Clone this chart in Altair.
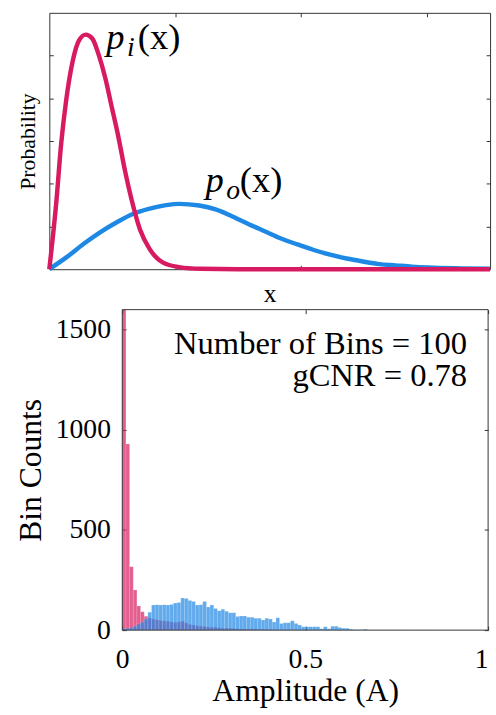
import altair as alt
import pandas as pd

SERIF = "Liberation Serif"
RED = "#D81B60"
BLUE = "#1E88E5"
FRAME = "#333333"

# ---------------- top panel: density sketches ----------------
pi_x = [0.0, 0.055, 0.094, 0.133, 0.185, 0.237, 0.289, 0.341, 0.393, 0.445, 0.497, 0.549,
        0.600, 0.654, 0.720, 0.797, 0.900, 1.030, 1.200, 1.500, 2.000, 2.500, 3.000, 3.500]
pi_y = [0.0, 1.55, 2.93, 3.93, 4.86, 5.36, 5.49, 5.40, 5.01, 4.47, 3.78, 3.09,
        2.32, 1.62, 0.93, 0.47, 0.16, 0.05, 0.01, 0.0, 0.0, 0.0, 0.0, 0.0]

po_x = [0.0, 0.146, 0.276, 0.406, 0.536, 0.667, 0.797, 0.927, 1.030, 1.190, 1.320, 1.450,
        1.580, 1.710, 1.840, 1.970, 2.100, 2.230, 2.360, 2.490, 2.620, 2.750, 2.880, 3.010,
        3.270, 3.500]
po_y = [0.0, 0.30, 0.60, 0.87, 1.10, 1.30, 1.42, 1.50, 1.53, 1.49, 1.40, 1.24,
        1.06, 0.89, 0.72, 0.58, 0.45, 0.34, 0.25, 0.18, 0.12, 0.09, 0.06, 0.04,
        0.02, 0.01]

top_xdomain = [0, 3.5]
top_ydomain = [0, 6]
top_xticks = [1, 2, 3]
top_yticks = [1, 2, 3, 4, 5]

# ---------------- bottom panel: histogram, 100 bins over [0, 1] ----------------
bin_lo = [i / 100 for i in range(100)]
red_counts = [2000, 929, 317, 200, 121, 92, 69, 60, 55, 52,
              48, 45, 44, 40, 38, 40, 44, 35, 28, 25,
              22, 20, 18, 16, 15, 14, 12, 10, 10, 9,
              8, 7, 6, 6, 5, 5, 4, 3, 3, 2,
              2, 1, 1, 1, 1, 1, 0, 0, 0, 0,
              0, 0, 0, 0, 0, 0, 0, 0, 0, 0,
              0, 0, 0, 0, 0, 0, 0, 0, 0, 0,
              0, 0, 0, 0, 0, 0, 0, 0, 0, 0,
              0, 0, 0, 0, 0, 0, 0, 0, 0, 0,
              0, 0, 0, 0, 0, 0, 0, 0, 0, 0]
blue_counts = [7, 10, 12, 20, 31, 40, 55, 89, 125, 127,
               125, 127, 126, 128, 135, 138, 160, 158, 148, 143,
               125, 127, 143, 115, 125, 108, 97, 104, 94, 87,
               87, 68, 71, 70, 64, 64, 59, 59, 51, 59,
               55, 40, 62, 33, 37, 37, 47, 33, 25, 17,
               17, 17, 17, 17, 7, 17, 7, 20, 20, 13,
               10, 10, 5, 2, 2, 2, 5, 1, 1, 0,
               1, 0, 0, 1, 0, 1, 1, 0, 0, 0,
               0, 1, 1, 1, 0, 0, 0, 0, 0, 0,
               0, 0, 0, 0, 0, 0, 0, 0, 0, 0]
bot_xdomain = [0, 1]
bot_ydomain = [0, 1600]
bot_xticks = [0, 0.5, 1]
bot_yticks = [0, 500, 1000, 1500]
annot_lines = ["Number of Bins = 100", "gCNR = 0.78"]
annot_y = [1380, 1217]

# The bottom plot box starts 74 px right of the top one: its view is widened to the
# left and the data scale keeps 371 px per unit, so x = 0 falls 74 px inside the view.
BOT_W = 445
LEFT_GAP = 74
bot_scale_min = -LEFT_GAP / (BOT_W - LEFT_GAP)


def axis(orient, values, title=None, labels=False, offset=-4, **kw):
    return alt.Axis(orient=orient, values=values, labels=labels, title=title,
                    offset=offset, tickSize=4, domain=False, grid=False,
                    tickColor=FRAME, **kw)


# ---------------- top chart ----------------
txs = alt.Scale(domain=top_xdomain, nice=False, zero=False)
tys = alt.Scale(domain=top_ydomain, nice=False)

po_df = pd.DataFrame({"x": po_x, "y": po_y})
pi_df = pd.DataFrame({"x": pi_x, "y": pi_y})

blue_line = alt.Chart(po_df).mark_line(color=BLUE, strokeWidth=4.5, interpolate="monotone").encode(
    x=alt.X("x:Q", scale=txs, axis=axis("bottom", top_xticks, title="x",
                                         titleFontSize=26, titlePadding=11)),
    y=alt.Y("y:Q", scale=tys, axis=axis("left", top_yticks, title="Probability",
                                         titleFontSize=22, titlePadding=10)),
)
red_line = alt.Chart(pi_df).mark_line(color=RED, strokeWidth=4.5, interpolate="monotone").encode(
    x=alt.X("x:Q", scale=txs, axis=axis("top", top_xticks)),
    y=alt.Y("y:Q", scale=tys, axis=axis("right", top_yticks)),
)

lab_p = pd.DataFrame({"x": [0.453, 1.240], "y": [5.15, 1.80], "t": ["p", "p"]})
lab_sub = pd.DataFrame({"x": [0.617, 1.406], "y": [4.99, 1.64], "t": ["i", "o"]})
lab_x = pd.DataFrame({"x": [0.703, 1.513], "y": [5.15, 1.80], "t": ["(x)", "(x)"]})


def label_layer(df, size, style):
    return alt.Chart(df).mark_text(align="left", baseline="alphabetic", font=SERIF,
                                   fontSize=size, fontStyle=style, color="#000").encode(
        x=alt.X("x:Q", scale=txs, axis=None),
        y=alt.Y("y:Q", scale=tys, axis=None),
        text="t:N",
    )


top = alt.layer(
    blue_line, red_line,
    label_layer(lab_p, 37, "italic"),
    label_layer(lab_sub, 28, "italic"),
    label_layer(lab_x, 37, "normal"),
).resolve_axis(x="independent", y="independent").properties(width=447, height=260)

# ---------------- bottom chart ----------------
bxs = alt.Scale(domain=[bot_scale_min, bot_xdomain[1]], nice=False, zero=False)
bys = alt.Scale(domain=bot_ydomain, nice=False)

hist_df = pd.DataFrame({"lo": bin_lo, "red": red_counts, "blue": blue_counts})
hist_df["hi"] = hist_df["lo"] + 0.01
hist_df["base"] = 0

red_bars = alt.Chart(hist_df).transform_filter("datum.red > 0").mark_bar(
    fill=RED, fillOpacity=0.7, stroke="white", strokeWidth=0.4, strokeOpacity=0.35, clip=True
).encode(
    x=alt.X("lo:Q", scale=bxs, axis=axis("bottom", bot_xticks, title="Amplitude (A)", labels=True,
                                          format=".1~f", labelFontSize=28, labelPadding=16,
                                          titleFontSize=32, titlePadding=2,
                                          titleX=(BOT_W + LEFT_GAP) / 2)),
    x2="hi:Q",
    y=alt.Y("red:Q", scale=bys, axis=axis("left", bot_yticks, title="Bin Counts", labels=True,
                                           offset=-(LEFT_GAP + 4),
                                           format="d", labelFontSize=28, labelPadding=12,
                                           titleFontSize=32, titlePadding=8)),
    y2="base:Q",
)
blue_bars = alt.Chart(hist_df).transform_filter("datum.blue > 0").mark_bar(
    fill=BLUE, fillOpacity=0.7, stroke="white", strokeWidth=0.4, strokeOpacity=0.35, clip=True
).encode(
    x=alt.X("lo:Q", scale=bxs, axis=axis("top", bot_xticks)),
    x2="hi:Q",
    y=alt.Y("blue:Q", scale=bys, axis=axis("right", bot_yticks)),
    y2="base:Q",
)

annot_df = pd.DataFrame({"t": annot_lines, "y": annot_y, "x": [0.9426, 0.9426]})
annot = alt.Chart(annot_df).mark_text(align="right", baseline="alphabetic", font=SERIF,
                                      fontSize=33, color="#000").encode(
    x=alt.X("x:Q", scale=bxs, axis=None),
    y=alt.Y("y:Q", scale=bys, axis=None),
    text="t:N",
)

bot_frame = alt.Chart(pd.DataFrame({"k": [0]})).mark_rect(
    fillOpacity=0, stroke=FRAME, strokeWidth=1
).encode(
    x=alt.datum(bot_xdomain[0], scale=bxs, axis=None),
    x2=alt.datum(bot_xdomain[1]),
    y=alt.datum(bot_ydomain[0], scale=bys, axis=None),
    y2=alt.datum(bot_ydomain[1]),
)

bottom = alt.layer(red_bars, blue_bars, annot, bot_frame).resolve_axis(
    x="independent", y="independent").properties(
    width=BOT_W, height=325, view=alt.ViewBackground(stroke="transparent"))

chart = alt.vconcat(top, bottom, spacing=2).properties(
    padding={"left": 14, "top": 7, "right": -4, "bottom": 0}
).configure_axis(
    labelFont=SERIF, titleFont=SERIF, titleFontWeight="normal",
    labelColor="#000", titleColor="#000",
).configure_view(stroke=FRAME, strokeWidth=1)

chart.save("out.html", embed_options={"renderer": "svg", "actions": False})
